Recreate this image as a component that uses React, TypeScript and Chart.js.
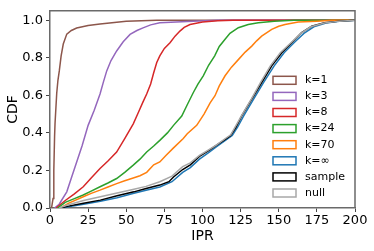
import React, { useEffect, useRef } from "react";
import { Chart, registerables } from "chart.js";
Chart.register(...registerables);

const seriesLabels = ["k=1", "k=3", "k=8", "k=24", "k=70", "k=∞", "sample", "null"];
const seriesColors = ["#8c564b", "#9467bd", "#d62728", "#2ca02c", "#ff7f0e", "#1f77b4", "#000000", "#a8a8a8"];

const k1 = [[1, 0], [2, 0.05], [2.5, 0.2], [3, 0.38], [3.3, 0.45], [4.4, 0.61], [5.2, 0.68], [6.1, 0.73], [7.3, 0.81], [8.7, 0.873], [11, 0.926], [14, 0.945], [17.5, 0.958], [25, 0.972], [32.8, 0.98], [50, 0.995], [70, 1], [200, 1]];
const k3 = [[3, 0], [6, 0.02], [11, 0.086], [14, 0.16], [17.5, 0.245], [21, 0.33], [25, 0.44], [29, 0.52], [32.8, 0.607], [35, 0.67], [37.2, 0.73], [40, 0.785], [43.7, 0.836], [48, 0.885], [52.5, 0.924], [57, 0.945], [61, 0.959], [66, 0.975], [72, 0.986], [90, 0.993], [110, 1], [200, 1]];
const k8 = [[4, 0], [10, 0.04], [16, 0.075], [21.8, 0.113], [27, 0.16], [32.8, 0.21], [38, 0.25], [43.7, 0.298], [49, 0.37], [54.6, 0.448], [58, 0.51], [61, 0.565], [63.4, 0.607], [66, 0.66], [68, 0.72], [70, 0.775], [72, 0.81], [75, 0.85], [78.7, 0.88], [82, 0.915], [85.2, 0.942], [88, 0.962], [91.8, 0.977], [100, 0.99], [110, 0.997], [120, 1], [200, 1]];
const k24 = [[5, 0], [10, 0.03], [16, 0.05], [21.8, 0.069], [27, 0.09], [32.8, 0.113], [38, 0.133], [43.7, 0.157], [49, 0.19], [54.6, 0.228], [59, 0.26], [63.4, 0.298], [68, 0.33], [72, 0.36], [77, 0.4], [81, 0.44], [86.4, 0.49], [90, 0.55], [94, 0.615], [97, 0.66], [100.5, 0.704], [104, 0.76], [108, 0.81], [111, 0.86], [114.8, 0.898], [118, 0.93], [123.5, 0.96], [130, 0.977], [136.6, 0.986], [147, 0.995], [160, 1], [200, 1]];
const k70 = [[7, 0], [12, 0.025], [21.8, 0.06], [27, 0.078], [32.8, 0.095], [38, 0.112], [43.7, 0.13], [49, 0.145], [54.6, 0.16], [59, 0.172], [63.4, 0.19], [68, 0.23], [72, 0.245], [76, 0.28], [81, 0.32], [87.4, 0.37], [90, 0.395], [96.2, 0.44], [101, 0.5], [105, 0.56], [108.2, 0.598], [111, 0.65], [114.8, 0.704], [119, 0.75], [123.5, 0.79], [128, 0.83], [132.3, 0.862], [135.5, 0.89], [138.8, 0.915], [145.4, 0.951], [150, 0.968], [154.1, 0.977], [162.8, 0.99], [175, 0.995], [185, 1], [200, 1]];
const kInf = [[8, 0], [13, 0.008], [22, 0.02], [33, 0.036], [44, 0.055], [55, 0.078], [63, 0.095], [72, 0.112], [80, 0.14], [87, 0.19], [92, 0.215], [98, 0.26], [104, 0.295], [109, 0.325], [115, 0.36], [119.5, 0.386], [123, 0.43], [127, 0.49], [133.5, 0.58], [140, 0.668], [147, 0.757], [153.5, 0.827], [160, 0.88], [166.5, 0.93], [173, 0.965], [181, 0.985], [191, 0.995], [200, 1]];
const sample = [[7, 0], [12, 0.01], [22, 0.025], [33, 0.042], [44, 0.065], [55, 0.086], [63, 0.104], [72, 0.122], [78, 0.14], [81, 0.165], [87, 0.205], [92, 0.23], [98, 0.275], [104, 0.305], [109, 0.333], [114, 0.36], [118.5, 0.386], [122, 0.43], [125.7, 0.49], [132.3, 0.58], [138.8, 0.668], [145.4, 0.757], [152, 0.827], [158.5, 0.88], [165, 0.934], [171.6, 0.968], [180, 0.986], [190, 0.995], [200, 1]];
const nullDist = [[6, 0], [11, 0.015], [22, 0.04], [33, 0.06], [44, 0.08], [55, 0.1], [63, 0.115], [72, 0.14], [80, 0.17], [87, 0.22], [92, 0.24], [98, 0.28], [104, 0.31], [109, 0.335], [115, 0.37], [118.5, 0.39], [122, 0.44], [125.5, 0.49], [132, 0.58], [138, 0.668], [144.5, 0.757], [151, 0.827], [158, 0.88], [164.5, 0.93], [171, 0.965], [180, 0.985], [190, 0.995], [200, 1]];

const seriesData = [k1, k3, k8, k24, k70, kInf, sample, nullDist];

const xTicks = [0, 25, 50, 75, 100, 125, 150, 175, 200];
const yTicks = [0, 0.2, 0.4, 0.6, 0.8, 1.0];

const FONT = "DejaVu Sans";
const FRAME = "#6a6a6a";

const framePlugin = {
  id: "frameAndLegend",
  afterDraw(chart: any) {
    const { ctx, chartArea } = chart;
    ctx.save();
    ctx.strokeStyle = FRAME;
    ctx.lineWidth = 1.5;
    ctx.beginPath();
    ctx.moveTo(chartArea.left, chartArea.top);
    ctx.lineTo(chartArea.right, chartArea.top);
    ctx.lineTo(chartArea.right, chartArea.bottom);
    ctx.stroke();
    const x0 = chartArea.right - 82;
    const y0 = chartArea.top + 69.5;
    const step = 16.1;
    ctx.font = `11px "${FONT}"`;
    ctx.textBaseline = "middle";
    ctx.textAlign = "left";
    seriesLabels.forEach((lab, i) => {
      const y = y0 + i * step;
      ctx.strokeStyle = seriesColors[i];
      ctx.lineWidth = 1.5;
      ctx.strokeRect(x0, y - 4, 23, 8);
      ctx.fillStyle = "#000";
      ctx.fillText(lab, x0 + 32, y);
    });
    ctx.restore();
  },
};

export default function App() {
  const ref = useRef<HTMLCanvasElement>(null);
  useEffect(() => {
    const canvas = ref.current;
    if (!canvas) return;
    const chart = new Chart(canvas, {
      type: "line",
      data: {
        datasets: seriesData.map((d, i) => ({
          label: seriesLabels[i],
          data: d.map(([x, y]) => ({ x, y })),
          borderColor: seriesColors[i],
          backgroundColor: seriesColors[i],
          borderWidth: 1.5,
          pointRadius: 0,
          tension: 0,
          fill: false,
          order: seriesData.length - 1 - i,
        })),
      },
      options: {
        responsive: false,
        animation: false,
        devicePixelRatio: 1,
        layout: { padding: { top: 9, right: 19, left: 0, bottom: 0 } },
        plugins: { legend: { display: false }, tooltip: { enabled: false } },
        scales: {
          x: {
            type: "linear",
            min: 0,
            max: 200,
            afterBuildTicks: (s: any) => {
              s.ticks = xTicks.map((v) => ({ value: v }));
            },
            afterFit: (s: any) => {
              s.height = 43;
            },
            ticks: { color: "#000", font: { family: FONT, size: 13 }, padding: 1, maxRotation: 0, autoSkip: false },
            grid: { drawOnChartArea: false, drawTicks: true, tickLength: 4, tickColor: "#444", tickWidth: 1 },
            border: { display: true, color: FRAME, width: 1.5 },
            title: { display: true, text: "IPR", color: "#000", font: { family: FONT, size: 14, lineHeight: 1.2 }, padding: { top: 0, bottom: 6.6 } },
          },
          y: {
            type: "linear",
            min: 0,
            max: 1.05,
            afterBuildTicks: (s: any) => {
              s.ticks = yTicks.map((v) => ({ value: v }));
            },
            afterFit: (s: any) => {
              s.width = 50;
            },
            ticks: { color: "#000", font: { family: FONT, size: 13 }, padding: 3, callback: (v: any) => Number(v).toFixed(1) },
            grid: { drawOnChartArea: false, drawTicks: true, tickLength: 4, tickColor: "#444", tickWidth: 1 },
            border: { display: true, color: FRAME, width: 1.5 },
            title: { display: true, text: "CDF", color: "#000", font: { family: FONT, size: 14, lineHeight: 1.2 }, padding: { top: 4.6, bottom: 0 } },
          },
        },
      },
      plugins: [framePlugin],
    } as any);
    return () => chart.destroy();
  }, []);
  return (
    <div style={{ position: "fixed", left: 0, top: 0, width: 374, height: 251, background: "#fff" }}>
      <canvas ref={ref} width={374} height={251} style={{ display: "block", width: 374, height: 251 }} />
    </div>
  );
}
